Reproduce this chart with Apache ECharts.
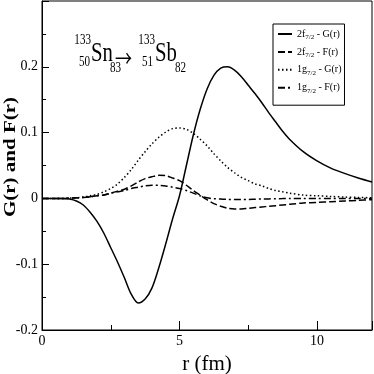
<!DOCTYPE html>
<html>
<head>
<meta charset="utf-8">
<script src="https://cdn.jsdelivr.net/npm/echarts@6/dist/echarts.min.js"></script>
<style>
  html, body { margin: 0; padding: 0; background: #fff; }
  #chart { width: 374px; height: 374px; }
</style>
</head>
<body>
<div id="chart"></div>
<script>
// radius grid (fm) and the four radial functions
var rValues = [0, 0.25, 0.5, 0.75, 1, 1.25, 1.5, 1.75, 2, 2.25, 2.5, 2.75, 3, 3.25, 3.5, 3.75,
  4, 4.25, 4.5, 4.75, 5, 5.25, 5.5, 5.75, 6, 6.25, 6.5, 6.75, 7, 7.25, 7.5, 7.75,
  8, 8.25, 8.5, 8.75, 9, 9.5, 10, 10.5, 11, 11.5, 12];
var g2f = [0, 0, 0, 0, -0.001, -0.004, -0.01, -0.021, -0.035, -0.053, -0.075, -0.097, -0.121, -0.146, -0.159, -0.153,
  -0.136, -0.105, -0.069, -0.031, 0.004, 0.05, 0.096, 0.135, 0.166, 0.187, 0.198, 0.2, 0.195, 0.185, 0.172, 0.159,
  0.145, 0.13, 0.116, 0.102, 0.09, 0.071, 0.057, 0.046, 0.038, 0.031, 0.025];
var f2f = [0, 0, 0, 0, 0.0003, 0.0008, 0.0015, 0.0025, 0.004, 0.005, 0.008, 0.011, 0.014, 0.019, 0.025, 0.03,
  0.033, 0.035, 0.0345, 0.031, 0.027, 0.02, 0.012, 0.005, -0.002, -0.008, -0.012, -0.015, -0.016, -0.016, -0.015, -0.014,
  -0.013, -0.012, -0.011, -0.01, -0.009, -0.007, -0.006, -0.005, -0.004, -0.003, -0.002];
var g1g = [0, 0, 0, 0, 0.0005, 0.001, 0.002, 0.004, 0.006, 0.01, 0.015, 0.022, 0.032, 0.044, 0.058, 0.071,
  0.083, 0.093, 0.101, 0.106, 0.107, 0.105, 0.099, 0.09, 0.08, 0.068, 0.057, 0.047, 0.039, 0.032, 0.027, 0.022,
  0.019, 0.015, 0.012, 0.01, 0.008, 0.005, 0.004, 0.003, 0.002, 0.0015, 0.001];
var f1g = [0, 0, 0, 0, 0.0003, 0.0008, 0.0015, 0.0025, 0.004, 0.005, 0.008, 0.01, 0.012, 0.015, 0.017, 0.019,
  0.02, 0.0198, 0.019, 0.017, 0.015, 0.012, 0.008, 0.004, 0.001, -0.0005, -0.001, -0.0015, -0.0015, -0.0015, -0.0015, -0.0012,
  -0.001, -0.0008, -0.0005, -0.0003, 0, 0, 0, 0, 0, 0, 0];
var seriesNames = ['2f7/2 - G(r)', '2f7/2 - F(r)', '1g7/2 - G(r)', '1g7/2 - F(r)'];
var yTickLabels = ['-0.2', '-0.1', '0', '0.1', '0.2'];
var xTickLabels = ['0', '5', '10'];

var serif = 'Liberation Serif, DejaVu Serif, serif';

function pairs(ys) {
  return rValues.map(function (r, i) { return [r, ys[i]]; });
}

var chart = echarts.init(document.getElementById('chart'));

function line(name, ys, type) {
  return {
    name: name,
    type: 'line',
    xAxisIndex: 0,
    data: pairs(ys),
    smooth: 0.3,
    symbol: 'none',
    lineStyle: { color: '#000', width: 1.5, type: type },
    itemStyle: { color: '#000' },
    animation: false
  };
}

// small text pieces of the nuclide label, squeezed like the original
function txt(s, x, y, size, align, font) {
  return {
    type: 'text', x: x, y: y, scaleX: 0.74,
    style: {
      text: s, fill: '#000',
      font: size + 'px ' + (font || serif),
      textAlign: align, textVerticalAlign: 'middle'
    }
  };
}

var option = {
  backgroundColor: '#fff',
  animation: false,
  grid: {
    left: 42, right: 2, top: 1, bottom: 44,
    outerBoundsMode: 'none', containLabel: false,
    show: true, borderColor: '#000', borderWidth: 1
  },
  legend: {
    orient: 'vertical',
    left: 273, top: 24,
    padding: [5, 3, 11, 4],
    itemWidth: 14, itemHeight: 12, itemGap: 6.4,
    borderColor: '#000', borderWidth: 1,
    selectedMode: false,
    itemStyle: { opacity: 0 },
    data: seriesNames,
    formatter: function (name) { return name.replace('7/2', '{s|7/2}'); },
    textStyle: {
      fontFamily: serif, fontSize: 10, color: '#000',
      rich: { s: { fontFamily: serif, fontSize: 7, color: '#000', padding: [6, 0, 0, 0] } }
    }
  },
  xAxis: [{
    type: 'value', min: 0, max: 12, interval: 5,
    name: 'r (fm)', nameLocation: 'middle', nameGap: 24,
    nameTextStyle: { fontFamily: serif, fontSize: 21, color: '#000' },
    axisLine: { onZero: false, lineStyle: { color: '#000', width: 1 } },
    axisTick: { inside: true, length: 9, lineStyle: { color: '#000' } },
    axisLabel: {
      fontFamily: serif, fontSize: 14, color: '#000', margin: 4,
      formatter: function (v) { return xTickLabels.indexOf(String(v)) >= 0 ? String(v) : ''; }
    },
    splitLine: { show: false }
  }, {
    type: 'value', min: 0, max: 12, interval: 2.5, position: 'bottom',
    axisLine: { show: false, onZero: false },
    axisTick: { inside: true, length: 5, lineStyle: { color: '#000' } },
    axisLabel: { show: false },
    splitLine: { show: false }
  }],
  yAxis: {
    type: 'value', min: -0.2, max: 0.3, interval: 0.1,
    axisLine: { onZero: false, lineStyle: { color: '#000', width: 1 } },
    axisTick: { inside: true, length: 7, lineStyle: { color: '#000' } },
    minorTick: { show: true, splitNumber: 2, length: 4, lineStyle: { color: '#000' } },
    axisLabel: {
      fontFamily: serif, fontSize: 14, color: '#000', margin: 4,
      formatter: function (v) {
        var s = String(Math.round(v * 10) / 10);
        return yTickLabels.indexOf(s) >= 0 ? s : '';
      }
    },
    splitLine: { show: false }
  },
  graphic: [
    {
      type: 'text', x: 11, y: 157, rotation: Math.PI / 2, scaleY: 0.78,
      style: {
        text: 'G(r) and F(r)', fill: '#000',
        font: 'bold 21px ' + serif,
        textAlign: 'center', textVerticalAlign: 'middle'
      }
    },
    txt('133', 91, 40, 15, 'right'),
    txt('50', 90, 62, 15, 'right'),
    txt('Sn', 91, 54, 28, 'left'),
    txt('83', 110, 68, 15, 'left'),
    txt('\u2192', 115, 58, 23, 'left', 'Noto Sans CJK SC, DejaVu Serif, sans-serif'),
    txt('133', 155, 40, 15, 'right'),
    txt('51', 153, 62, 15, 'right'),
    txt('Sb', 155, 54, 28, 'left'),
    txt('82', 175, 68, 15, 'left')
  ],
  series: [
    line(seriesNames[0], g2f, 'solid'),
    line(seriesNames[1], f2f, [7, 3]),
    line(seriesNames[2], g1g, [1.5, 2.5]),
    line(seriesNames[3], f1g, [7, 3, 2, 3])
  ]
};

chart.setOption(option);
</script>
</body>
</html>
